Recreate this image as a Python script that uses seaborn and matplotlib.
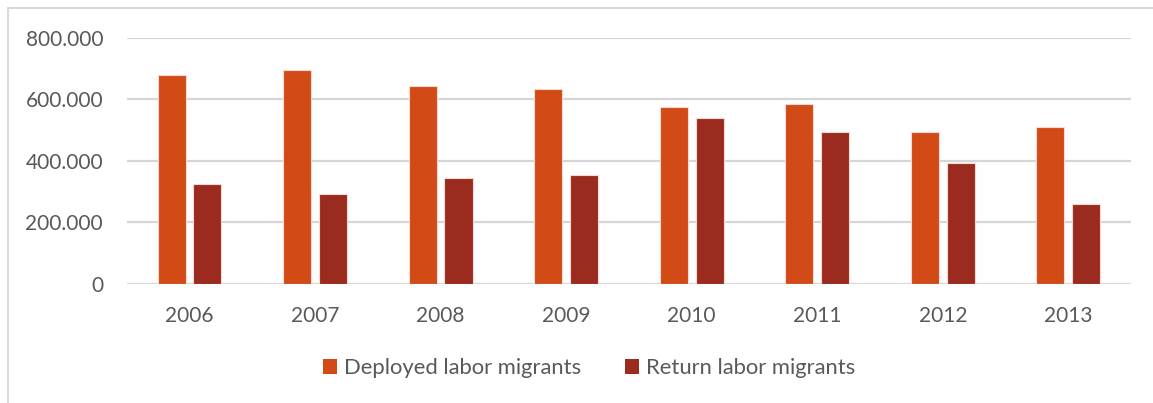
import pandas as pd
import seaborn as sns
import matplotlib.pyplot as plt
from matplotlib.ticker import FuncFormatter
from matplotlib.patches import Patch
from matplotlib.lines import Line2D

years = ["2006", "2007", "2008", "2009", "2010", "2011", "2012", "2013"]
deployed = [679000, 696000, 644000, 632000, 576000, 585000, 493000, 511000]
returned = [324000, 291000, 343000, 353000, 539000, 493000, 391000, 259000]
series = ["Deployed labor migrants", "Return labor migrants"]
colors = ["#D24B17", "#9B2B1F"]

df = pd.DataFrame({
    "year": years * 2,
    "value": deployed + returned,
    "series": [series[0]] * len(years) + [series[1]] * len(years),
})

sns.set_style("white")
plt.rcParams["font.family"] = ["Lato", "DejaVu Sans"]
txt = "#595959"

fig = plt.figure(figsize=(11.53, 4.03), dpi=100)
ax = fig.add_axes([0.1099, 0.296, 0.8711, 0.6105])

sns.barplot(data=df, x="year", y="value", hue="series", palette=colors,
            saturation=1, width=0.57, gap=0.215, edgecolor="#f6d9d0",
            linewidth=0.8, legend=False, ax=ax, zorder=3)

ax.set_ylim(0, 800000)
ax.set_yticks([0, 200000, 400000, 600000, 800000])
ax.yaxis.set_major_formatter(FuncFormatter(lambda v, p: f"{v:,.0f}".replace(",", ".")))
ax.set_xlim(-0.5, len(years) - 0.5)
ax.grid(axis="y", color="#D6D6D6", linewidth=1.6, zorder=0)
for s in ax.spines.values():
    s.set_visible(False)
ax.set_xlabel("")
ax.set_ylabel("")
ax.tick_params(axis="y", length=0, pad=17, labelsize=15, labelcolor=txt)
ax.tick_params(axis="x", length=0, pad=16, labelsize=15, labelcolor=txt)

handles = [Patch(facecolor=c, edgecolor="none") for c in colors]
fig.legend(handles, series, loc="center", bbox_to_anchor=(0.511, 0.087), ncol=2,
           frameon=False, fontsize=15.8, labelcolor=txt, handlelength=0.65,
           handleheight=0.65, handletextpad=0.3, columnspacing=2.0)

# outer chart border
fig.add_artist(Line2D([7.5 / 1153, 7.5 / 1153], [0, 1 - 8 / 403], color="#D9D9D9", lw=1.5))
fig.add_artist(Line2D([7.5 / 1153, 1], [1 - 8 / 403, 1 - 8 / 403], color="#D9D9D9", lw=1.5))

fig.savefig("out.png", dpi=100)
